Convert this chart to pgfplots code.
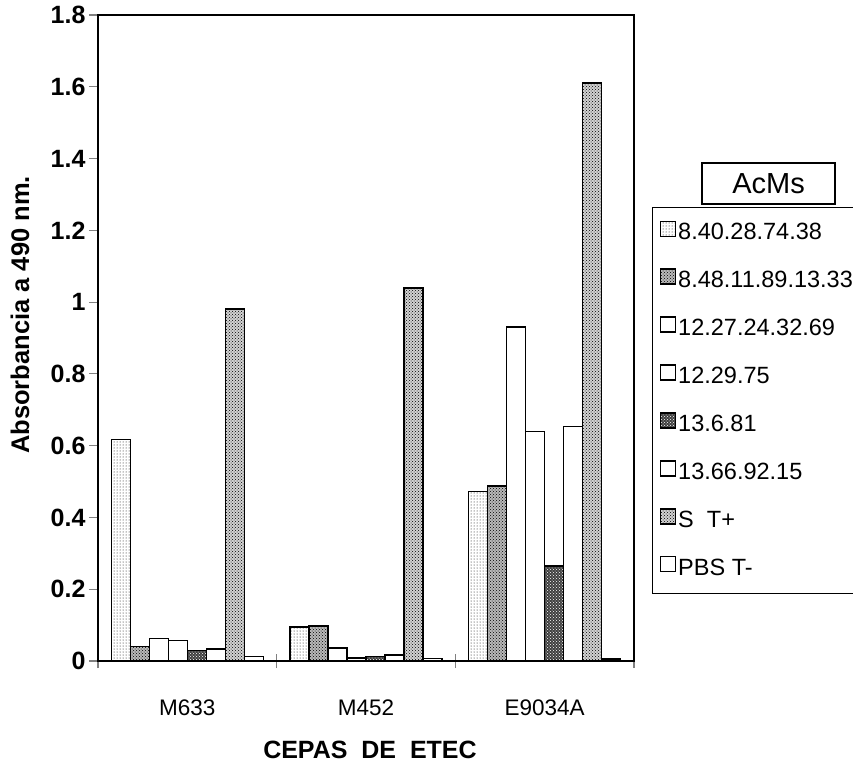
\documentclass[border=0pt]{standalone}
\usepackage{pgfplots}
\pgfplotsset{compat=1.18}
\usepackage{fontspec}
\setmainfont{Liberation Sans}
\usetikzlibrary{patterns}

% absorbance per strain (M633, M452, E9034A) for each antibody
\pgfplotstableread{
x  a      b      c      d      e      f      g     h
0  0.617  0.040  0.063  0.057  0.029  0.034  0.98  0.012
1  0.094  0.098  0.036  0.008  0.013  0.017  1.04  0.007
2  0.472  0.488  0.930  0.640  0.265  0.653  1.61  0.005
}\datatable

\begin{document}
\begin{tikzpicture}
\useasboundingbox (0,0) rectangle (853pt,763pt);
\begin{axis}[
  at={(98pt,102pt)}, anchor=south west,
  scale only axis, width=536pt, height=646pt,
  ybar=0pt, bar width=19pt,
  legend image code/.code={%
    \draw[#1] (1pt,-3pt) rectangle (16pt,12pt);
    \path (0pt,0pt) (18pt,0pt);},
  xmin=-0.5, xmax=2.5, ymin=0, ymax=1.8,
  ytick={0,0.2,...,1.8},
  yticklabels={0,0.2,0.4,0.6,0.8,1,1.2,1.4,1.6,1.8},
  xtick={0,1,2}, xticklabels={M633,M452,E9034A},
  minor xtick={-0.5,0.5,1.5,2.5},
  major x tick style={draw=none},
  minor x tick style={line width=1.2pt},
  minor tick length=14pt,
  xtick align=center,
  ytick align=outside, major tick length=9pt,
  xtick pos=bottom, ytick pos=left,
  axis line style={line width=1.5pt},
  y tick style={line width=1.2pt},
  yticklabel style={font=\bfseries\fontsize{25}{25}\selectfont},
  xticklabel style={font=\fontsize{22.5}{22.5}\selectfont, anchor=center, yshift=-42pt},
  every axis y label/.style={at={(axis description cs:0,0.5356)}, xshift=-78pt, rotate=90, anchor=center},
  every axis x label/.style={at={(axis description cs:0.5,0)}, xshift=4pt, yshift=-89pt, anchor=center},
  ylabel={\bfseries\fontsize{25.5}{25.5}\selectfont Absorbancia a 490 nm.},
  xlabel={\bfseries\fontsize{25}{25}\selectfont CEPAS\ \ DE\ \ ETEC},
  legend cell align=left,
  legend style={at={(1.0336,0.7028)}, anchor=north west, draw=black, line width=1.2pt,
    inner xsep=6pt, inner ysep=13pt, row sep=23.6pt,
    font=\fontsize{23.5}{23.5}\selectfont,
    nodes={inner sep=0pt, text height=18pt, text depth=5pt}},
]
\addplot[draw=black, line width=1.6pt, fill=white, postaction={pattern=dots}] table[x=x,y=a] {\datatable};
\addplot[draw=black, line width=1.6pt, fill=gray!55, postaction={pattern=crosshatch dots}] table[x=x,y=b] {\datatable};
\addplot[draw=black, line width=1.6pt, fill=white] table[x=x,y=c] {\datatable};
\addplot[draw=black, line width=1.6pt, fill=white] table[x=x,y=d] {\datatable};
\addplot[draw=black, line width=1.6pt, fill=black!75, postaction={pattern=crosshatch dots, pattern color=white}] table[x=x,y=e] {\datatable};
\addplot[draw=black, line width=1.6pt, fill=white] table[x=x,y=f] {\datatable};
\addplot[draw=black, line width=1.6pt, fill=gray!35, postaction={pattern=crosshatch dots}] table[x=x,y=g] {\datatable};
\addplot[draw=black, line width=1.6pt, fill=white] table[x=x,y=h] {\datatable};
\legend{8.40.28.74.38, 8.48.11.89.13.33, 12.27.24.32.69, 12.29.75, 13.6.81, 13.66.92.15, S\ \ T+, PBS T-}
\end{axis}
\node[draw=black, line width=1.2pt, minimum width=133pt, minimum height=41pt, inner sep=0pt,
  font=\fontsize{29}{29}\selectfont] at (768.5pt,579.5pt) {AcMs};
\end{tikzpicture}
\end{document}
